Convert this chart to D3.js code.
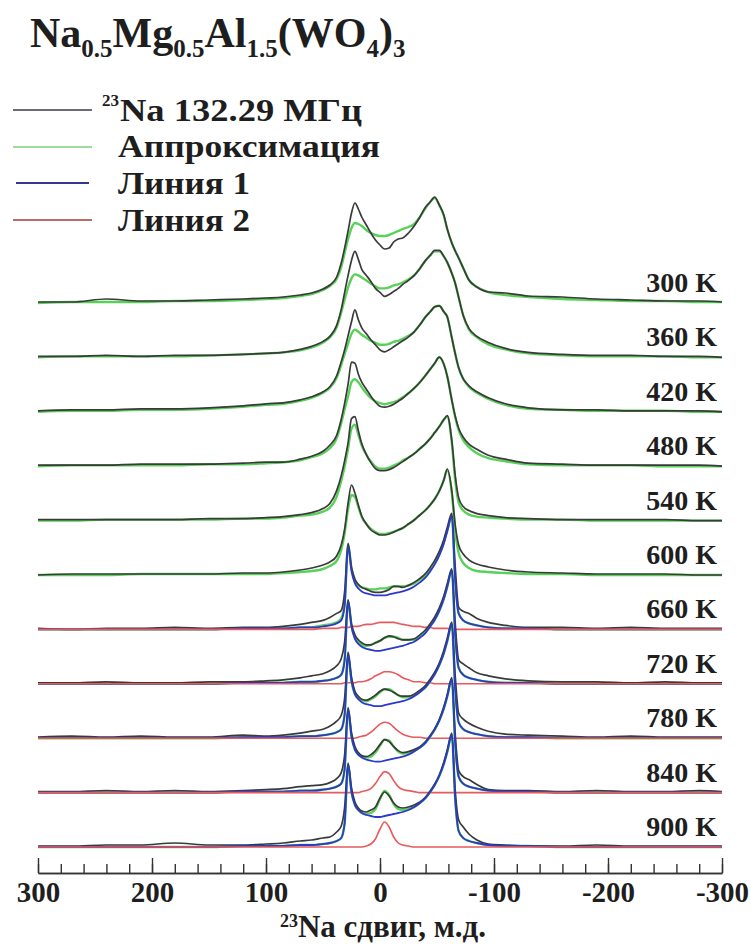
<!DOCTYPE html>
<html>
<head>
<meta charset="utf-8">
<script src="https://cdn.jsdelivr.net/npm/d3@7"></script>
<style>
  body { margin: 0; background: #fff; }
  svg { display: block; }
  text { font-family: "Liberation Serif", "Times New Roman", serif; font-weight: bold; fill: #1e1e1e; }
</style>
</head>
<body>
<svg id="chart" width="751" height="945"></svg>
<script>
// Chemical shift grid (ppm) shared by every spectrum
const ppm = [300,270,240,210,180,150,120,100,85,70, 60,50,44,38,34,31,28,25,22,19,
  16,12,8,4,0,-4,-8,-12,-16,-20, -25,-30,-35,-40,-44,-48,-52,-56,-59,-63,
  -66,-69,-73,-78,-85,-95,-110,-130,-160,-190, -220,-250,-280,-300];

const temps = ["300 K","360 K","420 K","480 K","540 K","600 K","660 K","720 K","780 K","840 K","900 K"];
const axisTicks = [300,200,100,0,-100,-200,-300];

// Measured spectra (exp) and approximations (fit), intensity above each baseline
const exp300 = [1,1,4,2,2,3,4,5,6,8, 10,14,18,26,40,55,72,90,100,94,
  86,78,70,63,58,54,55,61,64,65, 70,77,86,96,101,106,98,88,74,60,
  52,45,35,23,16,11,10,7,6,4, 3,2,2,1];
const fit300 = [0,1,1,1,2,2,3,4,5,7, 9,13,17,24,36,50,64,75,80,79,
  77,73,70,68,67,67,68,70,72,74, 76,79,86,95,101,105,98,87,74,60,
  52,45,35,23,16,11,8,6,4,3, 2,2,1,1];

const exp360 = [1,1,2,1,2,2,3,4,5,8, 11,16,21,32,48,65,82,97,106,98,
  88,82,76,69,65,61,63,66,69,73, 77,82,89,97,102,107,107,101,95,84,
  74,60,42,29,21,15,9,5,3,2, 2,1,1,0];
const fit360 = [0,1,1,1,1,2,3,4,5,7, 10,15,20,30,45,58,70,79,83,82,
  80,77,74,71,69,69,70,72,73,75, 78,82,89,97,102,106,106,101,95,84,
  74,60,42,28,20,13,8,4,2,1, 1,1,0,0];

const exp420 = [1,2,2,3,3,4,6,8,9,12, 15,20,25,36,50,62,76,90,102,92,
  84,78,72,67,62,60,62,65,68,71, 75,80,87,95,100,105,106,100,95,74,
  58,44,33,26,20,14,8,4,2,2, 1,1,1,0];
const fit420 = [0,1,1,2,2,3,5,7,8,11, 14,19,24,34,47,58,68,78,82,80,
  77,74,71,69,67,67,68,70,71,73, 76,80,87,95,100,105,106,100,95,74,
  58,44,33,25,19,13,7,3,2,1, 1,1,0,0];

const exp480 = [1,1,1,2,2,2,3,4,4,7, 10,15,21,31,47,63,82,104,103,92,
  84,77,70,64,60,59,60,62,65,68, 73,78,84,91,97,103,109,102,90,66,
  50,38,29,22,17,11,7,3,2,1, 1,1,1,0];
const fit480 = [0,1,1,1,1,2,2,3,4,6, 9,13,18,28,43,57,70,84,87,84,
  79,73,68,65,63,62,63,64,66,69, 73,78,84,91,97,103,109,102,90,66,
  49,36,26,19,13,8,5,2,1,1, 1,0,0,0];

const exp540 = [1,1,1,1,1,2,2,3,4,6, 8,12,17,30,45,60,78,102,104,90,
  77,66,58,52,50,50,51,53,56,59, 63,67,72,77,82,88,94,101,105,80,
  45,23,14,10,7,5,3,2,1,1, 1,1,0,0];
const fit540 = [0,0,1,1,1,1,2,2,3,5, 6,9,13,24,40,54,72,92,96,86,
  75,66,59,54,52,52,53,55,57,60, 63,67,72,77,82,88,94,101,104,78,
  40,18,10,6,4,3,2,1,1,0, 0,0,0,0];

const exp600 = [0,1,1,1,1,1,2,2,3,5, 7,10,13,19,30,46,72,90,82,70,
  59,51,45,42,40,40,41,43,45,47, 51,55,60,65,70,76,84,95,106,84,
  50,30,21,15,11,8,5,3,2,1, 1,1,0,0];
const fit600 = [0,0,0,1,1,1,1,1,2,3, 4,6,9,14,25,42,66,80,78,68,
  58,51,46,43,41,41,42,43,45,47, 51,55,60,65,70,76,84,95,105,82,
  44,22,12,7,4,3,2,1,1,0, 0,0,0,0];

// High-temperature spectra: measured, approximation, line 1 and line 2
const exp660 = [1,0,1,1,2,1,2,2,3,5, 7,9,12,16,19,38,86,62,50,45,
  42,40,38,37,37,38,40,43,43,42, 44,47,51,56,62,69,78,90,102,116,
  62,22,18,16,11,7,4,2,2,1, 2,1,1,1];
const fit660 = [0,0,0,0,0,0,1,1,1,2, 2,4,5,7,11,26,85,61,49,44,
  42,41,40,40,41,41,42,43,43,43, 44,46,50,54,60,66,75,87,99,113,
  48,16,9,6,4,2,1,1,0,0, 0,0,0,0];
const l1_660 = [0,0,0,0,0,0,1,1,1,2, 2,3,4,6,9,24,83,58,46,41,
  38,36,35,34,34,34,35,36,37,38, 40,43,47,52,58,65,74,86,98,113,
  48,16,9,6,4,2,1,1,0,0, 0,0,0,0];
const l2_660 = [0,0,0,0,0,0,0,0,0,0, 0,1,1,1,2,2,2,3,3,3,
  4,5,5,6,7,7,7,7,6,5, 4,3,3,2,2,1,1,1,1,0,
  0,0,0,0,0,0,0,0,0,0, 0,0,0,0];

const exp720 = [1,1,2,1,1,2,2,3,4,6, 8,10,13,18,25,42,84,60,49,44,
  41,39,39,41,43,46,48,47,45,44, 44,45,49,54,60,67,76,88,100,115,
  60,24,20,16,11,8,5,3,2,2, 1,2,1,1];
const fit720 = [0,0,0,0,0,0,1,1,1,2, 2,3,4,6,9,25,83,58,46,42,
  39,38,39,41,43,46,47,47,46,44, 44,44,48,52,58,64,73,85,97,113,
  48,16,9,6,4,2,1,1,0,0, 0,0,0,0];
const l1_720 = [0,0,0,0,0,0,1,1,1,2, 2,3,4,6,9,24,82,57,45,40,
  37,35,34,33,33,34,35,36,37,38, 40,42,46,51,57,64,73,85,97,113,
  48,16,9,6,4,2,1,1,0,0, 0,0,0,0];
const l2_720 = [0,0,0,0,0,0,0,0,0,0, 0,0,0,0,0,1,1,1,1,2,
  2,3,5,8,10,12,12,11,9,6, 4,2,2,1,1,0,0,0,0,0,
  0,0,0,0,0,0,0,0,0,0, 0,0,0,0];

const exp780 = [1,2,1,2,1,1,3,2,3,5, 7,9,12,17,23,40,86,61,47,42,
  39,38,40,43,47,49,48,46,43,42, 42,44,48,53,59,66,75,88,100,116,
  62,25,19,15,11,7,4,3,2,1, 2,1,1,1];
const fit780 = [0,0,0,0,0,0,1,1,1,2, 2,3,4,6,9,24,83,57,44,40,
  38,37,39,42,46,49,49,46,43,41, 41,43,47,51,57,64,73,85,97,114,
  48,16,9,6,4,2,1,1,0,0, 0,0,0,0];
const l1_780 = [0,0,0,0,0,0,1,1,1,2, 2,3,4,6,9,24,83,57,44,39,
  36,34,33,32,32,33,34,35,36,37, 39,42,46,51,57,64,73,85,97,114,
  48,16,9,6,4,2,1,1,0,0, 0,0,0,0];
const l2_780 = [0,0,0,0,0,0,0,0,0,0, 0,0,0,0,0,0,0,0,0,1,
  2,3,6,10,14,16,15,11,7,4, 2,1,1,0,0,0,0,0,0,0,
  0,0,0,0,0,0,0,0,0,0, 0,0,0,0];

const exp840 = [1,1,2,1,2,1,2,3,4,6, 7,8,10,14,20,38,85,60,46,40,
  37,36,38,42,48,53,51,46,42,40, 41,43,46,51,57,64,73,86,98,115,
  58,22,16,13,8,3,2,2,1,2, 1,1,2,1];
const fit840 = [0,0,0,0,0,0,1,1,1,2, 2,3,4,6,9,24,83,56,43,38,
  36,35,36,40,47,53,52,46,41,39, 40,42,45,50,56,63,72,84,96,113,
  48,16,9,6,4,2,1,1,0,0, 0,0,0,0];
const l1_840 = [0,0,0,0,0,0,1,1,1,2, 2,3,4,6,9,24,83,56,43,38,
  35,33,32,31,31,32,33,34,35,36, 38,41,45,50,56,63,72,84,96,113,
  48,16,9,6,4,2,1,1,0,0, 0,0,0,0];
const l2_840 = [0,0,0,0,0,0,0,0,0,0, 0,0,0,0,0,0,0,0,0,0,
  1,2,4,9,16,21,19,12,6,3, 2,1,0,0,0,0,0,0,0,0,
  0,0,0,0,0,0,0,0,0,0, 0,0,0,0];

const exp900 = [1,1,2,2,4,2,2,3,4,6, 7,9,10,15,21,40,84,59,45,39,
  36,35,37,40,49,55,51,44,40,39, 40,42,45,50,56,63,72,85,97,114,
  56,27,20,13,7,3,2,1,1,2, 1,1,1,1];
const fit900 = [0,0,0,0,0,0,1,1,1,2, 2,3,4,6,9,24,82,55,42,37,
  34,33,34,38,48,56,52,43,38,37, 38,40,44,49,55,62,71,83,95,112,
  47,16,9,6,4,2,1,1,0,0, 0,0,0,0];
const l1_900 = [0,0,0,0,0,0,1,1,1,2, 2,3,4,6,9,24,82,55,42,37,
  34,32,31,30,30,31,32,33,34,35, 37,40,44,49,55,62,71,83,95,112,
  47,16,9,6,4,2,1,1,0,0, 0,0,0,0];
const l2_900 = [0,0,0,0,0,0,0,0,0,0, 0,0,0,0,0,0,0,0,0,0,
  0,1,3,8,18,25,20,10,4,2, 1,0,0,0,0,0,0,0,0,0,
  0,0,0,0,0,0,0,0,0,0, 0,0,0,0];

const legendLabels = ["Na 132.29 МГц", "Аппроксимация", "Линия 1", "Линия 2"];

// ---- table of traces, top to bottom ----
const traces = [
  { t: temps[0], exp: exp300, fit: fit300 },
  { t: temps[1], exp: exp360, fit: fit360 },
  { t: temps[2], exp: exp420, fit: fit420 },
  { t: temps[3], exp: exp480, fit: fit480 },
  { t: temps[4], exp: exp540, fit: fit540 },
  { t: temps[5], exp: exp600, fit: fit600 },
  { t: temps[6], exp: exp660, fit: fit660, l1: l1_660, l2: l2_660 },
  { t: temps[7], exp: exp720, fit: fit720, l1: l1_720, l2: l2_720 },
  { t: temps[8], exp: exp780, fit: fit780, l1: l1_780, l2: l2_780 },
  { t: temps[9], exp: exp840, fit: fit840, l1: l1_840, l2: l2_840 },
  { t: temps[10], exp: exp900, fit: fit900, l1: l1_900, l2: l2_900 }
];

const col = {
  exp: "#3a3a3a", fit: "#58d158", l1: "#2b3acb", l2: "#e85a5c",
  legExp: "#3a3a4a", legFit: "#7fcf7f", legL1: "#33378f", legL2: "#a8383a"
};

const svg = d3.select("#chart");

const x = d3.scaleLinear().domain([300, -300]).range([38, 722]);
const baseY = d3.scalePoint().domain(temps).range([303, 847]);
const amp = d3.scaleLinear().domain([0, 100]).range([0, -100]);

const lineAt = base => d3.line()
  .x((d, i) => x(ppm[i]))
  .y(d => base + amp(d))
  .curve(d3.curveMonotoneX);

const plot = svg.append("g").attr("class", "spectra");

traces.forEach(tr => {
  const b = baseY(tr.t);
  const g = plot.append("g");
  const gen = lineAt(b);
  g.append("path").attr("d", gen(tr.fit)).attr("fill", "none")
    .attr("stroke", col.fit).attr("stroke-width", 2.4).attr("stroke-linejoin", "round");
  g.append("path").attr("d", gen(tr.exp)).attr("fill", "none")
    .attr("stroke", col.exp).attr("stroke-width", 1.7).attr("stroke-linejoin", "round");
  if (tr.l1) {
    g.append("path").attr("d", gen(tr.l1)).attr("fill", "none")
      .attr("stroke", col.l1).attr("stroke-width", 1.8).attr("stroke-linejoin", "round");
    g.append("path").attr("d", gen(tr.l2)).attr("fill", "none")
      .attr("stroke", col.l2).attr("stroke-width", 1.6).attr("stroke-linejoin", "round");
  }
});

// temperature labels
svg.append("g").selectAll("text").data(temps).join("text")
  .attr("x", 717)
  .attr("y", d => baseY(d) - 11)
  .attr("text-anchor", "end")
  .attr("font-size", 28)
  .text(d => d);

// ---- x axis ----
const axisY = 873;
const minor = d3.axisBottom(x)
  .tickValues(d3.range(-300, 301, 20))
  .tickSizeInner(-9).tickSizeOuter(0)
  .tickFormat("");
const major = d3.axisBottom(x)
  .tickValues(axisTicks)
  .tickSizeInner(-15).tickSizeOuter(0)
  .tickPadding(8)
  .tickFormat(d => String(d));

const gMinor = svg.append("g").attr("transform", `translate(0,${axisY})`).call(minor);
const gMajor = svg.append("g").attr("transform", `translate(0,${axisY})`).call(major);
[gMinor, gMajor].forEach(g => {
  g.selectAll("path.domain").attr("stroke", "#333").attr("stroke-width", 1.6);
  g.selectAll(".tick line").attr("stroke", "#333").attr("stroke-width", 1.4);
});
gMajor.selectAll(".tick text")
  .attr("font-size", 29)
  .attr("font-family", "'Liberation Serif', 'Times New Roman', serif")
  .attr("font-weight", "bold")
  .attr("fill", "#1e1e1e");

// axis title
const xt = svg.append("text").attr("x", 383).attr("y", 937).attr("text-anchor", "middle");
xt.append("tspan").attr("font-size", 18).attr("dy", -10).text("23");
xt.append("tspan").attr("font-size", 31).attr("dy", 10).text("Na сдвиг, м.д.");

// ---- title ----
const title = svg.append("text").attr("x", 30).attr("y", 47).attr("font-size", 42);
const parts = [["Na", 0], ["0.5", 1], ["Mg", 0], ["0.5", 1], ["Al", 0], ["1.5", 1], ["(WO", 0], ["4", 1], [")", 0], ["3", 1]];
let low = false;
parts.forEach(([s, sub]) => {
  const isSub = sub === 1;
  const dy = isSub && !low ? 10 : (!isSub && low ? -10 : 0);
  title.append("tspan").attr("dy", dy).attr("font-size", isSub ? 25 : 42).text(s);
  low = isSub;
});

// ---- legend ----
const legColors = [col.legExp, col.legFit, col.legL1, col.legL2];
const legLineY = [110, 147, 183, 220];
const legTextY = [121, 157, 194, 231];
const legTextX = [120, 118, 118, 118];
const legTextW = [242, 262, 132, 132];
const leg = svg.append("g");
legendLabels.forEach((lab, i) => {
  leg.append("line")
    .attr("x1", i === 2 ? 16 : 13).attr("x2", i === 2 ? 89 : 92)
    .attr("y1", legLineY[i]).attr("y2", legLineY[i])
    .attr("stroke", legColors[i]).attr("stroke-width", i === 2 ? 2 : 1.5);
  leg.append("text")
    .attr("x", legTextX[i]).attr("y", legTextY[i])
    .attr("font-size", 31)
    .attr("textLength", legTextW[i]).attr("lengthAdjust", "spacingAndGlyphs")
    .text(lab);
});
leg.append("text").attr("x", 102).attr("y", 106).attr("font-size", 17).text("23");
</script>
</body>
</html>
